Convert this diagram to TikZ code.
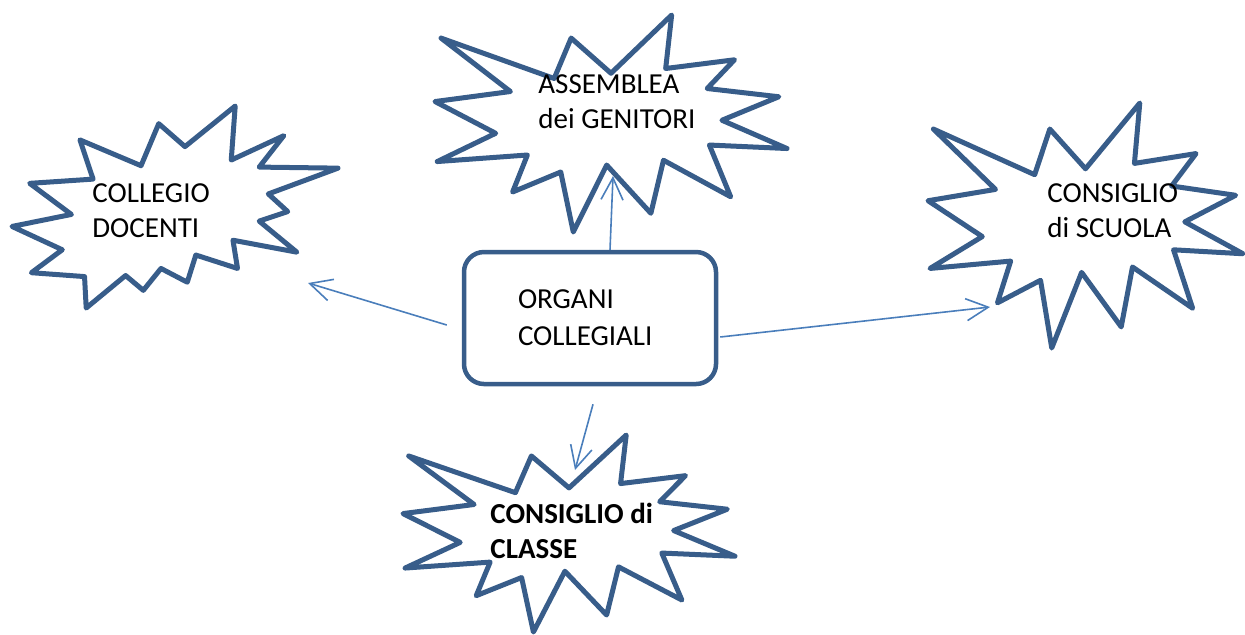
\documentclass[tikz,border=0pt]{standalone}
\definecolor{sealblue}{HTML}{385D8A}
\definecolor{linkblue}{HTML}{4A7EBB}
\usepackage{fontspec}
\setmainfont{Carlito}
\usetikzlibrary{arrows.meta}

% outline of the two explosion shapes, in a 100 x 100 box
\newcommand{\explosionone}{(50.00,26.85) -- (67.23,0) -- (65.53,24.65) -- (85.09,20.63) -- (77.32,33.87) -- (97.67,37.67) -- (81.51,48.50) -- (100,61.53) -- (77.95,59.92) -- (84.00,83.77) -- (64.91,66.93) -- (61.33,91.38) -- (48.76,69.14) -- (39.28,100) -- (35.72,72.35) -- (22.05,81.56) -- (26.24,64.52) -- (0.63,67.53) -- (17.23,54.51) -- (0,39.88) -- (21.42,35.26) -- (1.71,10.63) -- (33.85,29.26) -- (38.67,10.63) -- cycle}
\newcommand{\explosiontwo}{(53.06,20.10) -- (68.47,0) -- (67.25,26.75) -- (83.37,14.69) -- (75.83,30.24) -- (100,30.76) -- (78.63,43.53) -- (84.58,52.27) -- (75.83,56.99) -- (87.39,72.37) -- (67.78,66.44) -- (69.18,80.42) -- (56.39,73.77) -- (53.76,87.23) -- (45.70,80.42) -- (40.28,91.26) -- (34.85,83.91) -- (22.76,100) -- (22.25,84.44) -- (5.95,82.52) -- (15.42,71.16) -- (0,59.62) -- (18.22,53.67) -- (5.43,38.29) -- (24.87,36.19) -- (20.84,16.78) -- (39.58,29.55) -- (45.01,8.74) -- cycle}

\begin{document}
\begin{tikzpicture}[x=0.5pt, y=-0.5pt,
    seal/.style={draw=sealblue, fill=white, line width=2.5pt, line join=round},
    label/.style={anchor=base west, align=left, inner sep=0pt, font=\fontsize{14.5}{17.5}\selectfont},
    organibox/.style={draw=sealblue, fill=white, line width=2.25pt, rounded corners=10pt,
      minimum width=126pt, minimum height=66pt, text width=72pt, align=left,
      font=\fontsize{14.5}{18.5}\selectfont},
    link/.style={draw=linkblue, line width=0.8pt, -{Straight Barb[length=11pt, width=11pt]}}]
  \useasboundingbox (0,0) rectangle (1245,634);
  % Explosions
  \draw[seal, shift={(12,106)}, xscale=3.26, yscale=2.02] \explosiontwo;
  \draw[seal, shift={(435,15)}, xscale=3.52, yscale=2.17] \explosionone;
  \draw[seal, shift={(928,103)}, xscale=3.15, yscale=2.45] \explosionone;
  \draw[seal, shift={(403,435)}, xscale=3.32, yscale=1.97] \explosionone;
  % Labels (placed by the baseline of their last line)
  \node[label] (collegio) at (92,237) {COLLEGIO\\DOCENTI};
  \node[label] (assemblea) at (538,128) {ASSEMBLEA\\dei GENITORI};
  \node[label] (scuola) at (1047,237) {CONSIGLIO\\di SCUOLA};
  \node[label, font=\fontsize{14.5}{17.5}\selectfont\bfseries] (classe) at (490,558) {CONSIGLIO di\\CLASSE};
  % Centre box
  \node[organibox] (organi) at (590,318) {ORGANI\\COLLEGIALI};
  % Arrow ends
  \coordinate (tip-collegio) at (308,283);
  \coordinate (tip-assemblea) at (613,176);
  \coordinate (tip-scuola) at (990,307);
  \coordinate (tip-classe) at (575,470);
  \draw[link] ([shift={(-15,7)}]organi.west) -- (tip-collegio);
  \draw[link] ([xshift=10pt]organi.north) -- (tip-assemblea);
  \draw[link] ([shift={(2,19)}]organi.east) -- (tip-scuola);
  \draw[link] ([shift={(3,18)}]organi.south) -- (tip-classe);
\end{tikzpicture}
\end{document}
